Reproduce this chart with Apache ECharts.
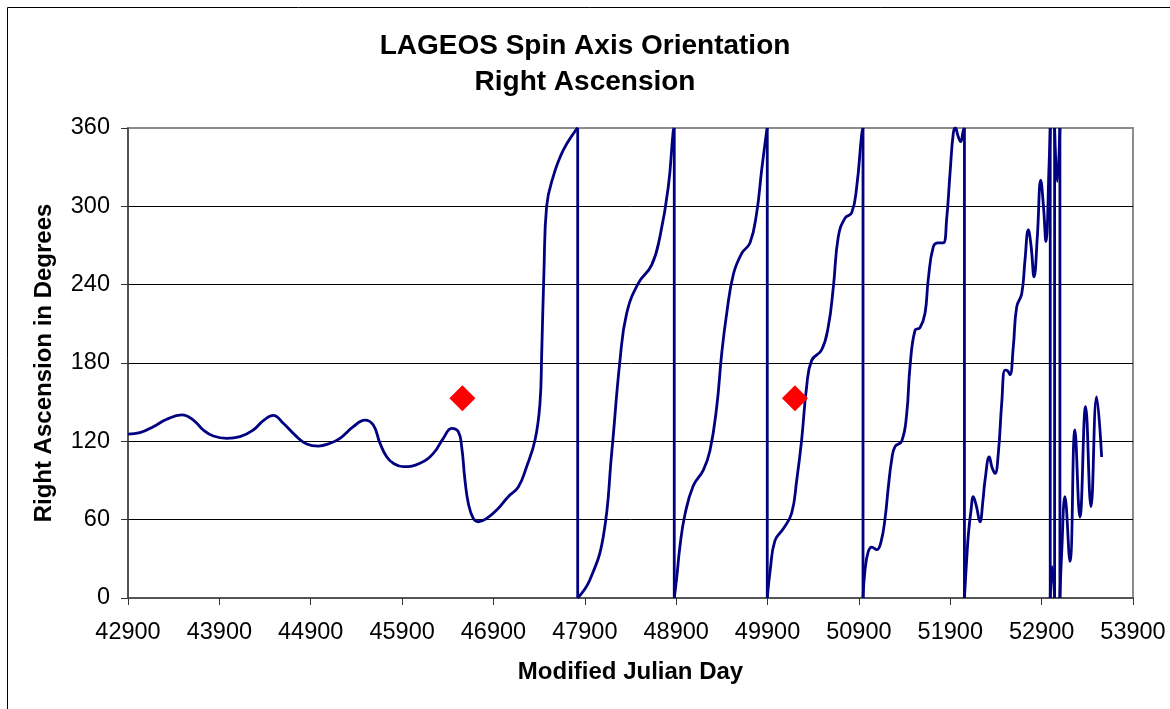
<!DOCTYPE html>
<html><head><meta charset="utf-8">
<script src="https://cdn.jsdelivr.net/npm/echarts@6/dist/echarts.min.js"></script>
<style>html,body{margin:0;padding:0;background:#fff}#c{width:1170px;height:709px}</style>
</head><body><div id="c"></div>
<script>
// Tick values
const xTickValues = [42900, 43900, 44900, 45900, 46900, 47900, 48900, 49900, 50900, 51900, 52900, 53900];
const yTickValues = [0, 60, 120, 180, 240, 300, 360];

// Right ascension [MJD, degrees], split at the 360/0 wraps
const seg1 = [[42900,125.5],[43031,126.6],[43177,131.2],[43324,136.9],[43488,140.2],[43615,136.3],[43724,128.7],[43834,124.1],[43980,122.3],[44126,123.6],[44271,128.7],[44381,135.8],[44490,139.9],[44600,133.8],[44746,123.6],[44856,118],[44983,116.4],[45111,118.5],[45220,122.3],[45366,131.2],[45494,136.3],[45585,132.5],[45658,118.5],[45731,108.2],[45804,103.2],[45913,100.6],[46096,103.2],[46242,110.8],[46351,122.3],[46443,130],[46515,127.4],[46552,115.9],[46588,90.4],[46625,72.5],[46679,61],[46734,58.4],[46826,61],[46935,67.4],[47062,77.6],[47172,85],[47260,100],[47355,121],[47409,149],[47428,187],[47453,251],[47482,300],[47555,323],[47664,343],[47811,359.5],[47822,360]];
const seg2 = [[47822,0],[47956,14],[48102,47],[48194,111],[48285,182],[48358,218],[48485,241],[48631,255],[48723,277],[48814,315],[48868,358],[48879,360]];
const seg3 = [[48879,0],[48905,15],[48942,40],[48996,64],[49087,86],[49197,98],[49270,113],[49343,146],[49398,187],[49453,218],[49526,248],[49617,264],[49708,272],[49781,295],[49836,328],[49891,358],[49897,360]];
const seg4 = [[49897,0],[49930,22],[49981,44],[50072,53],[50164,65],[50219,90],[50273,121],[50328,162],[50383,182],[50492,190],[50565,208],[50620,238],[50675,277],[50748,291],[50821,295],[50876,315],[50930,355],[50945,360]];
const seg5 = [[50945,0],[50966,21],[51002,35.5],[51040,39],[51095,37],[51142,43],[51186,61],[51222,85],[51259,106],[51295,116],[51368,120],[51423,141],[51459,177],[51514,205],[51568,207],[51623,218],[51659,244],[51714,269],[51769,272],[51823,272],[51860,290],[51897,325],[51933,356],[51957,360],[51984,354],[52014,349.5],[52042,358],[52055,360]];
const seg6 = [[52055,0],[52080,30],[52100,50],[52127,67],[52152,77.6],[52187,70],[52225,58.4],[52258,75],[52280,90],[52327,108],[52357,100],[52390,95.5],[52426,111],[52463,149],[52499,174.6],[52527,174],[52553,171],[52590,192.5],[52627,223],[52682,233],[52718,259],[52754,282],[52784,270],[52817,246],[52853,277],[52890,320],[52920,300],[52947,273],[52983,335],[52994,360]];
const seg7 = [[52994,0],[53015,24],[53042,0]];
const seg8 = [[53042,360],[53071,319],[53100,360]];
const seg9 = [[53100,0],[53119,34],[53155,77.6],[53210,28],[53264,128.7],[53319,62],[53381,146.5],[53440,70],[53502,154],[53557,108]];
const segments = [seg1, seg2, seg3, seg4, seg5, seg6, seg7, seg8, seg9];

// Red diamond markers
const markerMJD = [46560, 50200];
const markerRA = [153, 153];

const NAVY = '#000080';
const FONT = '"Liberation Sans", Arial, Helvetica, sans-serif';
const LW = 2.8;

const series = [];
segments.forEach(function (seg) {
  series.push({
    type: 'line', data: seg, smooth: 0.45, symbol: 'none', silent: true,
    lineStyle: { color: NAVY, width: LW }, animation: false, z: 3
  });
});
for (let i = 0; i < segments.length - 1; i++) {
  const a = segments[i][segments[i].length - 1];
  const b = segments[i + 1][0];
  series.push({
    type: 'line', data: [a, b], smooth: false, symbol: 'none', silent: true,
    lineStyle: { color: NAVY, width: LW }, animation: false, z: 3
  });
}
series.push({
  type: 'scatter', data: markerMJD.map(function (m, i) { return [m, markerRA[i]]; }),
  symbol: 'diamond', symbolSize: 26, itemStyle: { color: '#FF0000', opacity: 1 }, z: 4, animation: false
});

const chart = echarts.init(document.getElementById('c'), null, { renderer: 'canvas' });
chart.setOption({
  backgroundColor: '#ffffff',
  animation: false,
  title: {
    text: 'LAGEOS Spin Axis Orientation\nRight Ascension',
    left: 'center', top: 28, padding: 0,
    textStyle: { fontFamily: FONT, fontWeight: 'bold', fontSize: 28, lineHeight: 36, color: '#000' }
  },
  graphic: [{
    type: 'rect', shape: { x: 7.5, y: 7.5, width: 1200, height: 800 },
    style: { fill: 'none', stroke: '#000', lineWidth: 1 }, silent: true, z: -1
  }],
  grid: {
    left: 128, right: 37, top: 128, bottom: 111,
    show: true, borderColor: '#8c8c8c', borderWidth: 2, backgroundColor: 'transparent'
  },
  xAxis: {
    type: 'value',
    min: xTickValues[0], max: xTickValues[xTickValues.length - 1],
    interval: xTickValues[1] - xTickValues[0],
    name: 'Modified Julian Day', nameLocation: 'middle', nameGap: 62,
    nameTextStyle: { fontFamily: FONT, fontWeight: 'bold', fontSize: 24, color: '#000' },
    axisLine: { show: true, onZero: false, lineStyle: { color: '#555', width: 2 } },
    axisTick: { show: true, inside: false, length: 7, lineStyle: { color: '#333', width: 1 } },
    axisLabel: { margin: 23, fontFamily: FONT, fontSize: 23.5, color: '#000', formatter: function (v) { return String(v); } },
    splitLine: { show: false }
  },
  yAxis: {
    type: 'value',
    min: yTickValues[0], max: yTickValues[yTickValues.length - 1],
    interval: yTickValues[1] - yTickValues[0],
    name: 'Right Ascension in Degrees', nameLocation: 'middle', nameRotate: 90, nameGap: 72,
    nameTextStyle: { fontFamily: FONT, fontWeight: 'bold', fontSize: 24, color: '#000' },
    axisLine: { show: true, lineStyle: { color: '#404040', width: 1.5 } },
    axisTick: { show: true, inside: false, length: 7, lineStyle: { color: '#333', width: 1 } },
    axisLabel: { margin: 18, fontFamily: FONT, fontSize: 23.5, color: '#000', formatter: function (v) { return String(v); } },
    splitLine: { show: true, showMaxLine: false, lineStyle: { color: '#000', width: 1 } }
  },
  series: series
});
</script></body></html>
